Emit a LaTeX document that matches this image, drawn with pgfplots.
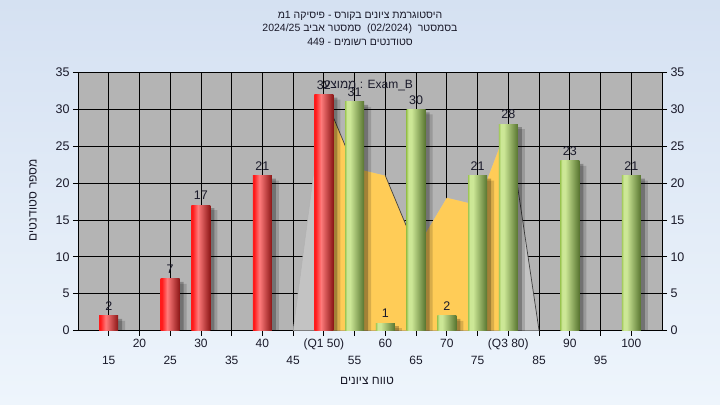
\documentclass[border=0pt]{standalone}
\usepackage{pgfplots}
\pgfplotsset{compat=1.18}
\usepackage{fontspec}
\setmainfont{Liberation Sans}
\newfontfamily\heb[Script=Hebrew]{Liberation Sans}
\TeXXeTstate=1
\newcommand{\R}[1]{\beginR #1\endR}
\newcommand{\Lt}[1]{\beginL #1\endL{}}
\definecolor{bgtop}{HTML}{D5E1F2}
\definecolor{bgbot}{HTML}{EEF5FC}
\definecolor{plotbg}{HTML}{B4B4B4}
\definecolor{areagray}{HTML}{C3C3C3}
\definecolor{yel}{HTML}{FFCC57}
\definecolor{rL}{HTML}{FF1A1A}
\definecolor{rH}{HTML}{FF7B7B}
\definecolor{rD}{HTML}{8A1515}
\definecolor{gL}{HTML}{A0C858}
\definecolor{gH}{HTML}{CCE796}
\definecolor{gD}{HTML}{587530}
\definecolor{txt}{HTML}{1A1A2A}
\pgfdeclarehorizontalshading{redbar}{100bp}{color(0bp)=(rL); color(25bp)=(rL); color(28bp)=(rL); color(42bp)=(rH); color(75bp)=(rD); color(100bp)=(rD)}
\pgfdeclarehorizontalshading{greenbar}{100bp}{color(0bp)=(gL); color(25bp)=(gL); color(30bp)=(gH); color(38bp)=(gH); color(75bp)=(gD); color(100bp)=(gD)}
\pgfplotstableread{
x y
15 2
25 7
30 17
40 21
50 32
55 31
60 1
65 30
70 2
75 21
80 28
90 23
100 21
}\alltab
\pgfplotstableread{
x y
45 0
50 32
55 22
60 21
65 11
70 18
75 17
80 28
85 0
}\envtab
\pgfplotstableread{
x y
50 0
50 32
55 22
60 21
65 11
70 18
75 17
80 28
80 0
}\iqrtab
\pgfplotsset{
  barlab/.style={nodes near coords, nodes near coords style={font=\fontsize{12.5bp}{14bp}\selectfont, text=txt, anchor=south, inner sep=0pt, yshift=5bp}},
  redb/.style={ybar, bar width=19bp, bar shift=0bp, draw=none, shading=redbar, barlab},
  greenb/.style={ybar, bar width=19bp, bar shift=0bp, draw=none, shading=greenbar, barlab},
}
\begin{document}
\begin{tikzpicture}
\shade[top color=bgtop, bottom color=bgbot] (-78bp,-74.5bp) rectangle (642bp,330.5bp);
\begin{axis}[
  at={(0,0)}, anchor=south west, scale only axis,
  width=584bp, height=258bp,
  xmin=10, xmax=105, ymin=0, ymax=35,
  axis background/.style={fill=plotbg},
  xtick={20,30,...,100},
  xticklabels={20,30,40,(Q1 50),60,70,(Q3 80),90,100},
  extra x ticks={15,25,...,95},
  extra x tick labels={15,25,35,45,55,65,75,85,95},
  extra x tick style={grid=major, xticklabel style={yshift=-17bp}},
  ytick={0,5,...,35},
  xtick pos=left, ytick pos=left,
  grid=major,
  major grid style={black, line width=0.8bp},
  tick align=outside, major tick length=5bp,
  axis line style={black, line width=0.8bp},
  every tick/.style={black, line width=0.8bp},
  /pgf/number format/assume math mode=true,
  xticklabel style={font=\fontsize{12bp}{14bp}\selectfont, text=txt},
  yticklabel style={font=\fontsize{12.5bp}{14bp}\selectfont, text=txt},
  clip=true,
]
\addplot[fill=areagray, draw=none] table {\envtab} \closedcycle;
\addplot[fill=yel, draw=none] table {\iqrtab} \closedcycle;
\addplot[black!75, line width=0.7bp] coordinates {(50,32) (55,22)};
\addplot[black!75, line width=0.7bp] coordinates {(60,21) (65,11)};
\addplot[black!75, line width=0.7bp] coordinates {(80,28) (85,0)};
\addplot[gray!60, line width=0.5bp] coordinates {(45,0) (50,32)};
% shadows
\addplot[ybar, bar width=19bp, bar shift=4bp, fill=black, opacity=0.25, draw=none, yshift=-3bp] table {\alltab};
\addplot[ybar, bar width=19bp, bar shift=7bp, fill=black, opacity=0.15, draw=none, yshift=-5bp] table {\alltab};
% bars
\addplot[redb] coordinates {(15,2)};
\addplot[redb] coordinates {(25,7)};
\addplot[redb] coordinates {(30,17)};
\addplot[redb] coordinates {(40,21)};
\addplot[redb] coordinates {(50,32)};
\addplot[greenb] coordinates {(55,31)};
\addplot[greenb] coordinates {(60,1)};
\addplot[greenb] coordinates {(65,30)};
\addplot[greenb] coordinates {(70,2)};
\addplot[greenb] coordinates {(75,21)};
\addplot[greenb] coordinates {(80,28)};
\addplot[greenb] coordinates {(90,23)};
\addplot[greenb] coordinates {(100,21)};
\node[font=\heb\fontsize{12bp}{14bp}\selectfont, text=txt] at (axis cs:57.2,33.2) {\R{ממוצע} : Exam\_B};
\end{axis}
\begin{axis}[
  at={(0,0)}, anchor=south west, scale only axis,
  width=584bp, height=258bp,
  xmin=10, xmax=105, ymin=0, ymax=35,
  axis y line*=right, axis x line=none,
  ytick={0,5,...,35},
  tick align=outside, major tick length=5bp,
  axis line style={black, line width=0.8bp},
  every tick/.style={black, line width=0.8bp},
  /pgf/number format/assume math mode=true,
  yticklabel style={font=\fontsize{12.5bp}{14bp}\selectfont, text=txt},
]
\addplot[draw=none] coordinates {(10,0)};
\end{axis}
\begin{scope}[font=\heb\fontsize{10.5bp}{13bp}\selectfont, text=txt]
\node at (282bp,314.5bp) {\R{היסטוגרמת ציונים בקורס - פיסיקה 1מ}};
\node at (282bp,301.5bp) {\R{בסמסטר \ \Lt{(02/2024)} \ סמסטר אביב \Lt{2024/25}}};
\node at (282bp,288.5bp) {\R{סטודנטים רשומים - \Lt{449}}};
\end{scope}
\node[font=\heb\fontsize{12bp}{14bp}\selectfont, text=txt] at (289bp,-50.5bp) {\R{טווח ציונים}};
\node[font=\heb\fontsize{12bp}{14bp}\selectfont, text=txt, rotate=90] at (-45bp,130.5bp) {\R{מספר סטודנטים}};
\pgfresetboundingbox
\path[use as bounding box] (-78bp,-74.5bp) rectangle (642bp,330.5bp);
\end{tikzpicture}
\end{document}
